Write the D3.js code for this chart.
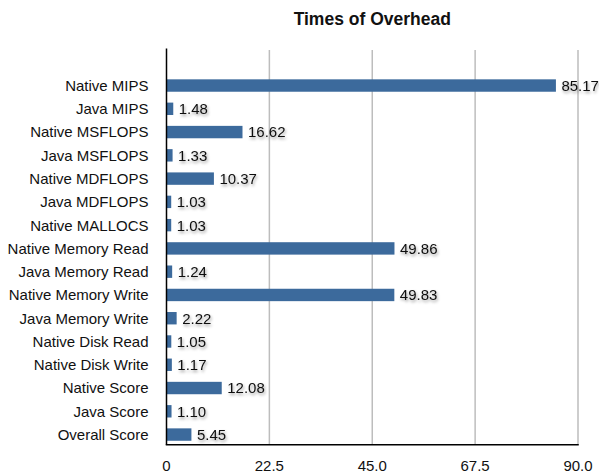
<!DOCTYPE html>
<html>
<head>
<meta charset="utf-8">
<script src="https://cdn.jsdelivr.net/npm/d3@7"></script>
<style>
  html, body { margin: 0; padding: 0; background: #fff; }
  svg text { font-family: "Liberation Sans", Arial, Helvetica, sans-serif; }
</style>
</head>
<body>
<svg id="chart" width="599" height="475"></svg>
<script>
// Benchmark overhead ratios (times of overhead)
const categories = [
  "Native MIPS", "Java MIPS", "Native MSFLOPS", "Java MSFLOPS",
  "Native MDFLOPS", "Java MDFLOPS", "Native MALLOCS", "Native Memory Read",
  "Java Memory Read", "Native Memory Write", "Java Memory Write", "Native Disk Read",
  "Native Disk Write", "Native Score", "Java Score", "Overall Score"
];
const values = [85.17, 1.48, 16.62, 1.33, 10.37, 1.03, 1.03, 49.86,
                1.24, 49.83, 2.22, 1.05, 1.17, 12.08, 1.10, 5.45];
const valueLabels = ["85.17", "1.48", "16.62", "1.33", "10.37", "1.03", "1.03", "49.86",
                     "1.24", "49.83", "2.22", "1.05", "1.17", "12.08", "1.10", "5.45"];
const tickValues = [0, 22.5, 45, 67.5, 90];
const tickLabels = ["0", "22.5", "45.0", "67.5", "90.0"];
const title = "Times of Overhead";

const svg = d3.select("#chart");
const plot = { left: 166.5, right: 578, top: 48.5, bottom: 444.7 };

const x = d3.scaleLinear().domain([0, 90]).range([plot.left, plot.right]);
const y = d3.scaleBand().domain(categories).range([73.9, 446.2])
  .paddingInner(0.467).paddingOuter(0.2335);

// soft shadow under value labels
const defs = svg.append("defs");
const f = defs.append("filter").attr("id", "shadow")
  .attr("x", "-20%").attr("y", "-40%").attr("width", "150%").attr("height", "200%");
f.append("feDropShadow").attr("dx", 1).attr("dy", 2).attr("stdDeviation", 1.8)
  .attr("flood-color", "#000").attr("flood-opacity", 0.4);

// title
svg.append("text")
  .attr("x", (plot.left + plot.right) / 2).attr("y", 25)
  .attr("text-anchor", "middle")
  .attr("font-size", 17.5).attr("font-weight", "bold").attr("fill", "#111")
  .text(title);

// vertical gridlines
svg.append("g").selectAll("line")
  .data(tickValues.slice(1))
  .join("line")
  .attr("x1", d => x(d)).attr("x2", d => x(d))
  .attr("y1", plot.top + 1.5).attr("y2", plot.bottom)
  .attr("stroke", "#bdbdbd").attr("stroke-width", 1.5);

// bars
svg.append("g").selectAll("rect")
  .data(values)
  .join("rect")
  .attr("x", x(0))
  .attr("y", (d, i) => y(categories[i]))
  .attr("width", d => x(d) - x(0))
  .attr("height", y.bandwidth())
  .attr("fill", "#3c6a9c");

// value labels
svg.append("g").selectAll("text")
  .data(values)
  .join("text")
  .attr("x", d => x(d) + 5.5)
  .attr("y", (d, i) => y(categories[i]) + y.bandwidth() / 2)
  .attr("dy", "0.36em")
  .attr("font-size", 15).attr("fill", "#111")
  .attr("filter", "url(#shadow)")
  .text((d, i) => valueLabels[i]);

// category labels
svg.append("g").selectAll("text")
  .data(categories)
  .join("text")
  .attr("x", 148.5)
  .attr("y", d => y(d) + y.bandwidth() / 2)
  .attr("dy", "0.36em")
  .attr("text-anchor", "end")
  .attr("font-size", 15).attr("fill", "#111")
  .text(d => d);

// axis lines
svg.append("line")
  .attr("x1", plot.left).attr("x2", plot.left)
  .attr("y1", plot.top).attr("y2", plot.bottom)
  .attr("stroke", "#000").attr("stroke-width", 1.5);
svg.append("line")
  .attr("x1", plot.left - 0.75).attr("x2", plot.right + 0.75)
  .attr("y1", plot.bottom).attr("y2", plot.bottom)
  .attr("stroke", "#000").attr("stroke-width", 1.5);

// x tick labels
svg.append("g").selectAll("text")
  .data(tickValues)
  .join("text")
  .attr("x", d => x(d))
  .attr("y", 471)
  .attr("text-anchor", "middle")
  .attr("font-size", 15).attr("fill", "#111")
  .text((d, i) => tickLabels[i]);
</script>
</body>
</html>
